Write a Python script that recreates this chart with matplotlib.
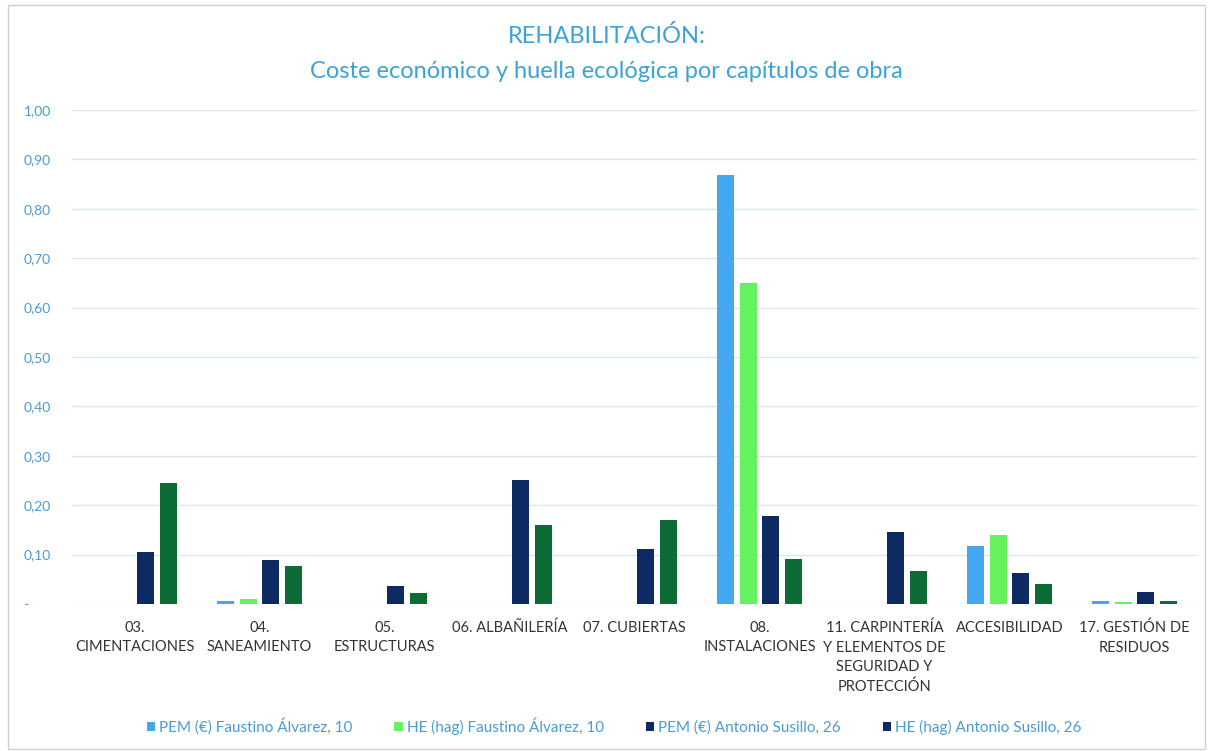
import matplotlib
matplotlib.use("Agg")
import matplotlib.pyplot as plt
import numpy as np
from matplotlib.patches import Rectangle, Patch

plt.rcParams['font.family'] = ['Lato', 'DejaVu Sans']

categories = [
    "03.\nCIMENTACIONES",
    "04.\nSANEAMIENTO",
    "05.\nESTRUCTURAS",
    "06. ALBAÑILERÍA",
    "07. CUBIERTAS",
    "08.\nINSTALACIONES",
    "11. CARPINTERÍA\nY ELEMENTOS DE\nSEGURIDAD Y\nPROTECCIÓN",
    "ACCESIBILIDAD",
    "17. GESTIÓN DE\nRESIDUOS",
]

pem_faustino = [0.0, 0.007, 0.0, 0.0, 0.0, 0.868, 0.0, 0.118, 0.006]
he_faustino = [0.0, 0.010, 0.0, 0.0, 0.0, 0.650, 0.0, 0.140, 0.004]
pem_antonio = [0.105, 0.089, 0.037, 0.251, 0.112, 0.178, 0.145, 0.063, 0.025]
he_antonio = [0.245, 0.077, 0.022, 0.160, 0.170, 0.092, 0.067, 0.040, 0.006]

series_names = [
    "PEM (€) Faustino Álvarez, 10",
    "HE (hag) Faustino Álvarez, 10",
    "PEM (€) Antonio Susillo, 26",
    "HE (hag) Antonio Susillo, 26",
]
y_ticks = [0.0, 0.1, 0.2, 0.3, 0.4, 0.5, 0.6, 0.7, 0.8, 0.9, 1.0]
y_tick_labels = ["-", "0,10", "0,20", "0,30", "0,40", "0,50",
                 "0,60", "0,70", "0,80", "0,90", "1,00"]

bar_colors = ["#43A8F0", "#66F25E", "#0E2A62", "#0D6B35"]
legend_colors = ["#43A8F0", "#66F25E", "#0E2A62", "#0E2A62"]
title_color = "#3AA3D9"
tick_color = "#4A9BD6"
label_color = "#333333"
grid_color = "#D8E7F4"

fig = plt.figure(figsize=(12.13, 7.51), dpi=100)
ax = fig.add_axes([72 / 1213, 1 - 604 / 751, 1125 / 1213, 494 / 751])

x = np.arange(len(categories))
width = 0.136
step = 0.18
all_series = [pem_faustino, he_faustino, pem_antonio, he_antonio]
for i, (vals, col) in enumerate(zip(all_series, bar_colors)):
    offs = (i - 1.5) * step
    ax.bar(x + offs, vals, width=width, color=col, zorder=3)

ax.set_xlim(-0.5, len(categories) - 0.5)
ax.set_ylim(0, 1.0)
ax.set_yticks(y_ticks)
ax.set_yticklabels(y_tick_labels, color=tick_color, fontsize=10)
ax.set_xticks(x)
ax.set_xticklabels(categories, color=label_color, fontsize=10.5, linespacing=1.5,
                   va="top")
ax.tick_params(axis="both", length=0)
for lbl in ax.get_yticklabels():
    lbl.set_horizontalalignment("left")
ax.yaxis.set_tick_params(pad=35)
ax.xaxis.set_tick_params(pad=12)
for s in ax.spines.values():
    s.set_visible(False)
ax.grid(axis="y", color=grid_color, linewidth=1, zorder=0)
ax.set_axisbelow(True)

fig.text(0.5, 1 - 36 / 751, "REHABILITACIÓN:", ha="center", va="center",
         color=title_color, fontsize=17)
fig.text(0.5, 1 - 71 / 751, "Coste económico y huella ecológica por capítulos de obra",
         ha="center", va="center", color=title_color, fontsize=17)

handles = [Patch(facecolor=c, edgecolor="none") for c in legend_colors]
leg = fig.legend(handles, series_names, loc="center", ncol=4,
                 bbox_to_anchor=(614 / 1213, 1 - 726 / 751), frameon=False,
                 fontsize=11, handlelength=0.55, handleheight=0.55,
                 handletextpad=0.25, columnspacing=2.75)
for t in leg.get_texts():
    t.set_color(tick_color)

fig.patches.append(Rectangle((8 / 1213, 2 / 751), 1197 / 1213, 744 / 751,
                             transform=fig.transFigure, fill=False,
                             edgecolor="#D0D0D0", linewidth=1))

fig.savefig("out.png", dpi=100, facecolor="white")
